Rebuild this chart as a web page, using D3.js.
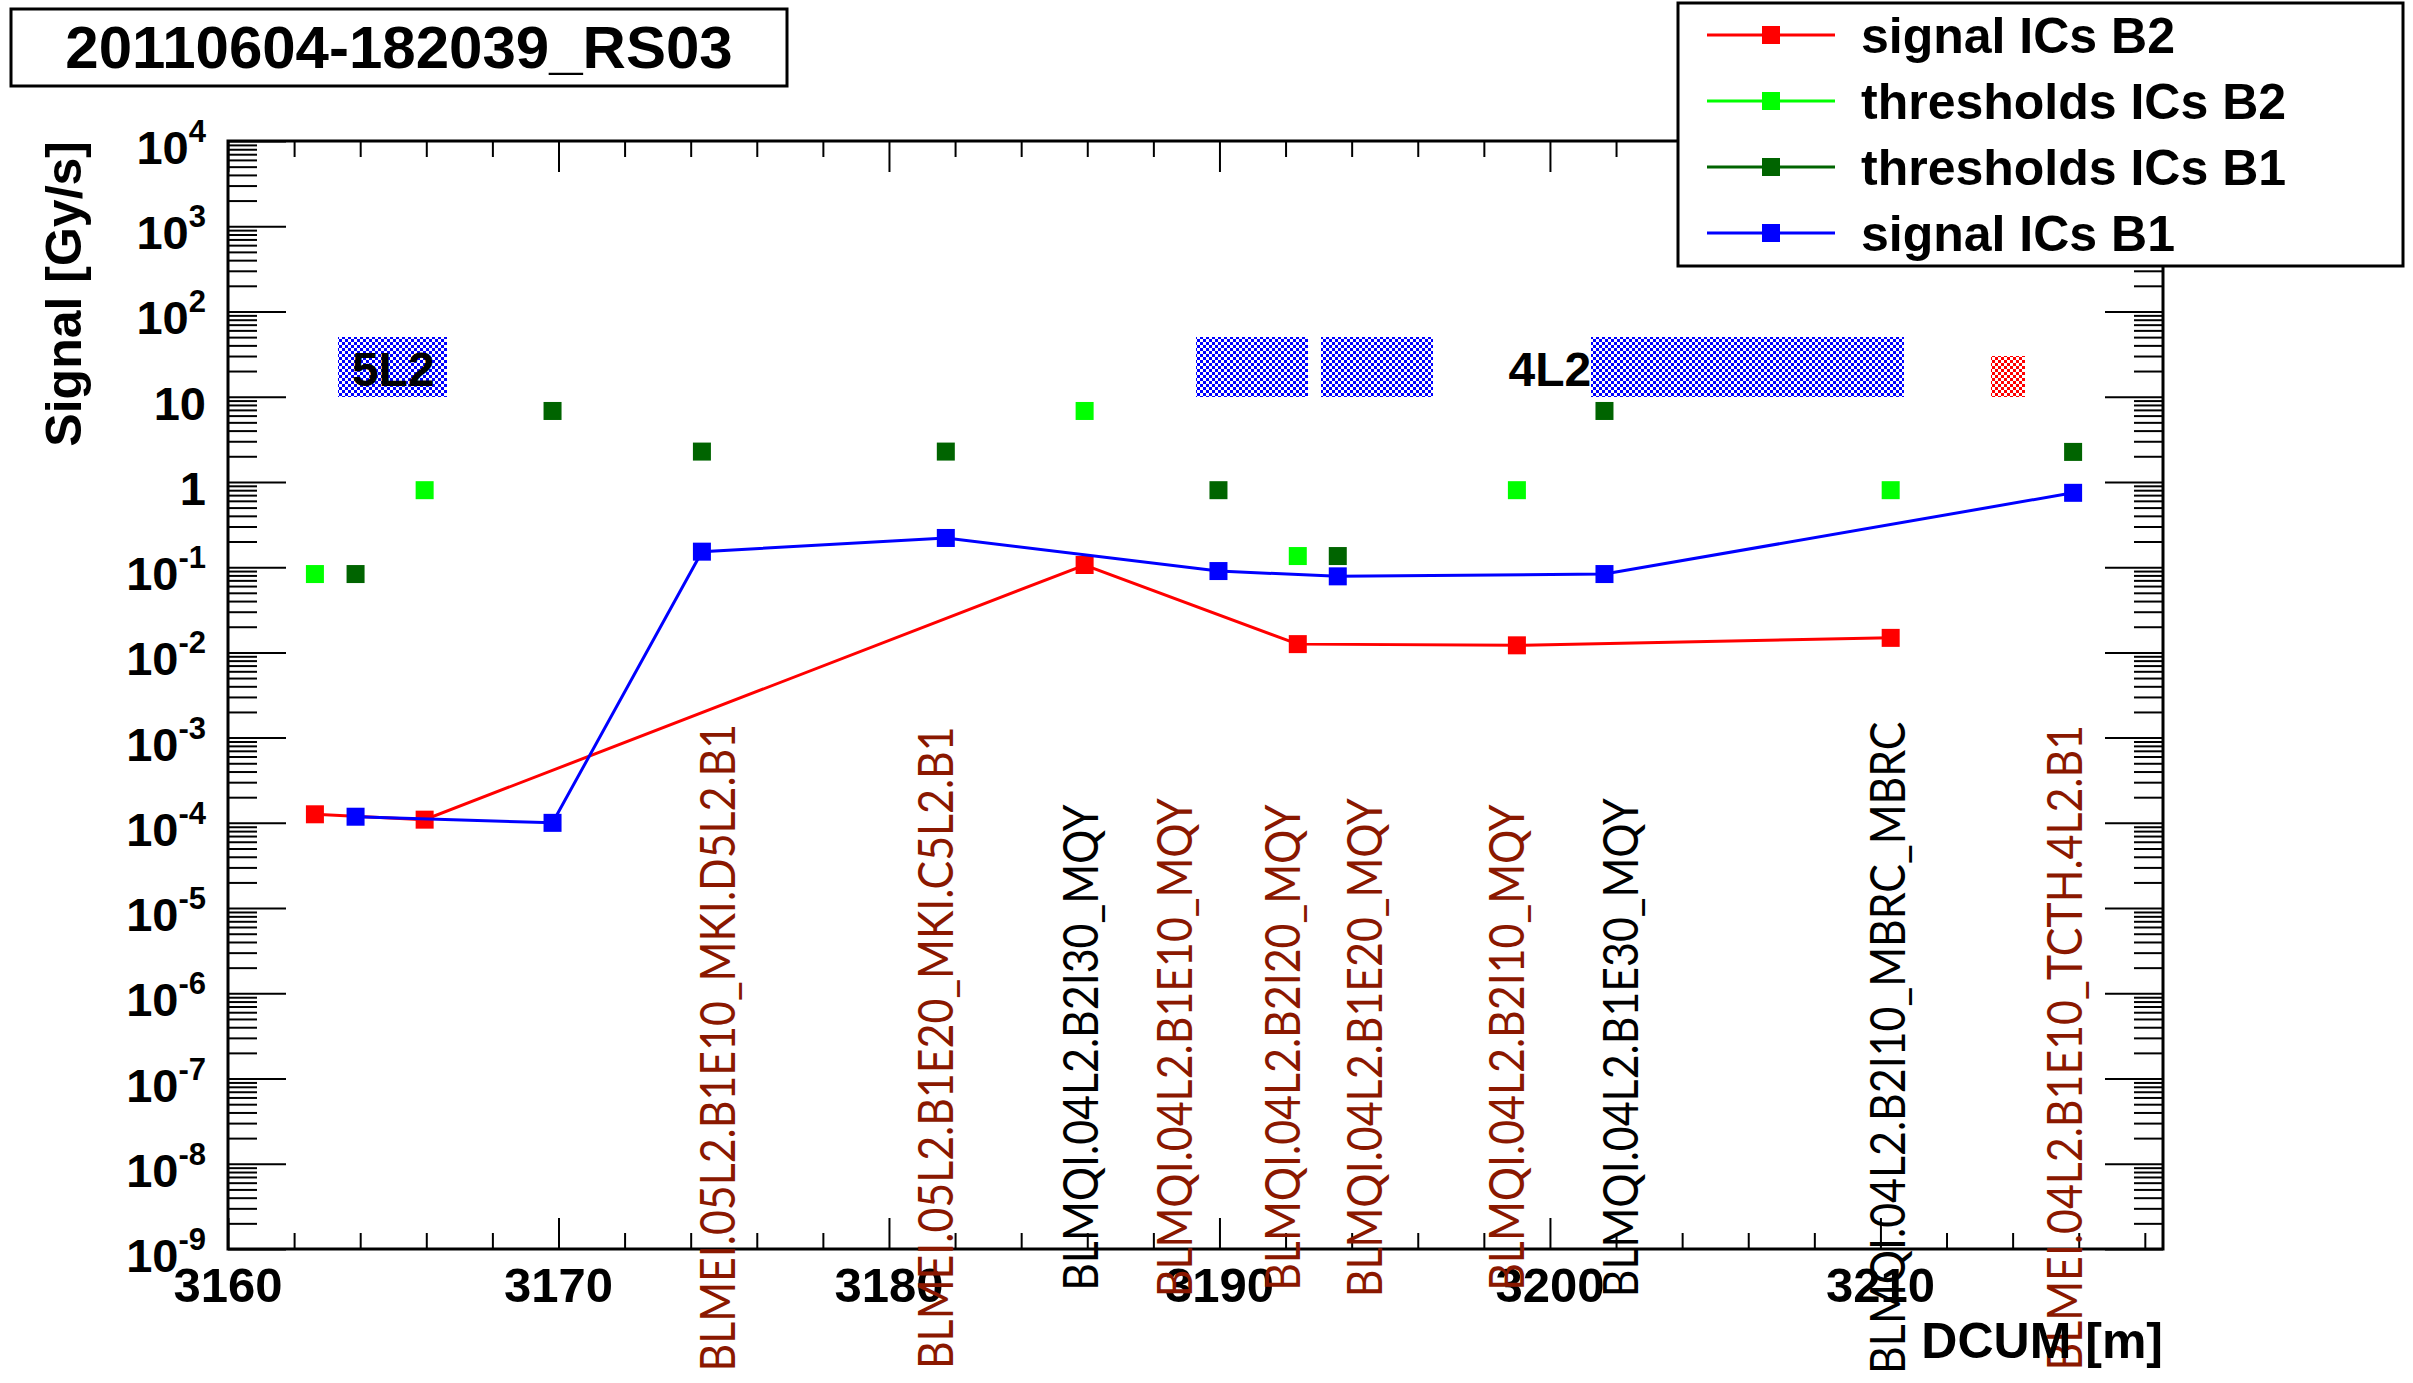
<!DOCTYPE html>
<html><head><meta charset="utf-8">
<script src="https://cdn.jsdelivr.net/npm/d3@7"></script>
<style>
body{margin:0;background:#fff;}
svg{display:block;}
</style>
</head><body>
<script>
// ---------------- data ----------------
const chartTitle = "20110604-182039_RS03";
const xTitle = "DCUM [m]";
const yTitle = "Signal [Gy/s]";

const b2Positions = [3162.63, 3165.95, 3185.92, 3192.37, 3199.0, 3210.31];
const signalB2 = [1.26e-4, 1.09e-4, 0.106, 0.0125, 0.0121, 0.0148];
const thresholdsB2 = [0.083, 0.80, 6.8, 0.135, 0.80, 0.80];

const b1Positions = [3163.86, 3169.82, 3174.34, 3181.72, 3189.97, 3193.58, 3201.65, 3215.83];
const signalB1 = [1.18e-4, 1.0e-4, 0.152, 0.22, 0.09, 0.078, 0.083, 0.745];
const thresholdsB1 = [0.083, 6.8, 2.27, 2.27, 0.80, 0.135, 6.8, 2.25];

const legendNames = ["signal ICs B2", "thresholds ICs B2", "thresholds ICs B1", "signal ICs B1"];
const legendColors = ["#ff0000", "#00ff00", "#006400", "#0000ff"];

const monitorNames = [
  "BLMEI.05L2.B1E10_MKI.D5L2.B1",
  "BLMEI.05L2.B1E20_MKI.C5L2.B1",
  "BLMQI.04L2.B2I30_MQY",
  "BLMQI.04L2.B1E10_MQY",
  "BLMQI.04L2.B2I20_MQY",
  "BLMQI.04L2.B1E20_MQY",
  "BLMQI.04L2.B2I10_MQY",
  "BLMQI.04L2.B1E30_MQY",
  "BLMQI.04L2.B2I10_MBRC_MBRC",
  "BLMEI.04L2.B1E10_TCTH.4L2.B1"
];
const monitorPositions = [3174.83, 3181.42, 3185.8, 3188.65, 3191.9, 3194.4, 3198.7, 3202.15, 3210.23, 3215.57];
const monitorColors = ["#8a1800", "#8a1800", "#000000", "#8a1800", "#8a1800", "#8a1800", "#8a1800", "#000000", "#000000", "#8a1800"];
const monitorLabelValue = 2.3e-7;

const regionStart = [3163.33, 3189.28, 3193.08, 3201.24, 3213.34];
const regionEnd   = [3166.63, 3192.69, 3196.47, 3210.70, 3214.36];
const regionLow   = [10, 10, 10, 10, 10];
const regionHigh  = [50, 50, 50, 50, 30];
const regionColor = ["#0000ff", "#0000ff", "#0000ff", "#0000ff", "#ff0000"];
const regionNames = ["5L2", "4L2"];
const regionNamePositions = [3165.0, 3200.0];
const regionNameValue = 21;

const xMajorTicks = [3160, 3170, 3180, 3190, 3200, 3210];
const yExponents = [-9, -8, -7, -6, -5, -4, -3, -2, -1, 0, 1, 2, 3, 4];

// ---------------- layout ----------------
const W = 2413, H = 1383;
const L = 228, R = 2163, T = 141, B = 1249;
const FONT = "'Liberation Sans', Arial, Helvetica, sans-serif";
const LABFONT = "Lato, 'Open Sans', sans-serif";

const svg = d3.select("body").append("svg").attr("width", W).attr("height", H)
  .style("background", "#fff");

const x = d3.scaleLinear().domain([3160, 3218.55]).range([L, R]);
const y = d3.scaleLog().domain([1e-9, 1e4]).range([B, T]);

// checker patterns
const defs = svg.append("defs");
const CELL = 3;
regionColor.forEach((c, i) => {
  const p = defs.append("pattern").attr("id", "chk" + i)
    .attr("patternUnits", "userSpaceOnUse").attr("width", 2 * CELL).attr("height", 2 * CELL);
  p.append("rect").attr("width", 2 * CELL).attr("height", 2 * CELL).attr("fill", "#fff");
  p.append("rect").attr("x", 0).attr("y", 0).attr("width", CELL).attr("height", CELL).attr("fill", c);
  p.append("rect").attr("x", CELL).attr("y", CELL).attr("width", CELL).attr("height", CELL).attr("fill", c);
});

// region boxes
svg.append("g").selectAll("rect").data(regionStart).join("rect")
  .attr("x", (d, i) => x(d))
  .attr("width", (d, i) => x(regionEnd[i]) - x(d))
  .attr("y", (d, i) => y(regionHigh[i]))
  .attr("height", (d, i) => y(regionLow[i]) - y(regionHigh[i]))
  .attr("fill", (d, i) => "url(#chk" + i + ")")
  .attr("shape-rendering", "crispEdges");

svg.append("g").selectAll("text").data(regionNames).join("text")
  .attr("x", (d, i) => x(regionNamePositions[i]))
  .attr("y", y(regionNameValue))
  .attr("dominant-baseline", "central")
  .attr("text-anchor", "middle")
  .attr("font-family", FONT).attr("font-weight", "bold").attr("font-size", 48)
  .text(d => d);

// ticks
function styleAxis(g) {
  g.select(".domain").remove();
  g.selectAll("line").attr("stroke", "#000").attr("stroke-width", 2);
  g.selectAll("text").remove();
}
const yMajor = yExponents.map(e => Math.pow(10, e));
const yMinor = [];
yExponents.slice(0, -1).forEach(e => { for (let k = 2; k <= 9; k++) yMinor.push(k * Math.pow(10, e)); });
const xMinor = d3.range(3162, 3219, 2).filter(v => v % 10 !== 0);

svg.append("g").attr("transform", `translate(${L},0)`).call(d3.axisLeft(y).tickValues(yMajor).tickSize(-58)).call(styleAxis);
svg.append("g").attr("transform", `translate(${L},0)`).call(d3.axisLeft(y).tickValues(yMinor).tickSize(-29)).call(styleAxis);
svg.append("g").attr("transform", `translate(${R},0)`).call(d3.axisRight(y).tickValues(yMajor).tickSize(-58)).call(styleAxis);
svg.append("g").attr("transform", `translate(${R},0)`).call(d3.axisRight(y).tickValues(yMinor).tickSize(-29)).call(styleAxis);
svg.append("g").attr("transform", `translate(0,${B})`).call(d3.axisBottom(x).tickValues(xMajorTicks).tickSize(-31)).call(styleAxis);
svg.append("g").attr("transform", `translate(0,${B})`).call(d3.axisBottom(x).tickValues(xMinor).tickSize(-16)).call(styleAxis);
svg.append("g").attr("transform", `translate(0,${T})`).call(d3.axisTop(x).tickValues(xMajorTicks).tickSize(-31)).call(styleAxis);
svg.append("g").attr("transform", `translate(0,${T})`).call(d3.axisTop(x).tickValues(xMinor).tickSize(-16)).call(styleAxis);

// frame
svg.append("rect").attr("x", L).attr("y", T).attr("width", R - L).attr("height", B - T)
  .attr("fill", "none").attr("stroke", "#000").attr("stroke-width", 3);

// y tick labels
const yl = svg.append("g").attr("font-family", FONT).attr("font-weight", "bold");
yExponents.forEach(e => {
  const t = yl.append("text").attr("x", 206).attr("y", y(Math.pow(10, e)) + 23)
    .attr("text-anchor", "end").attr("font-size", 47);
  if (e === 0) t.text("1");
  else if (e === 1) t.text("10");
  else {
    t.append("tspan").text("10");
    t.append("tspan").attr("font-size", 31).attr("dy", -22).text(String(e));
  }
});

// x tick labels
svg.append("g").selectAll("text").data(xMajorTicks).join("text")
  .attr("x", d => x(d)).attr("y", 1302)
  .attr("text-anchor", "middle")
  .attr("font-family", FONT).attr("font-weight", "bold").attr("font-size", 49)
  .text(d => d);

// y title
svg.append("text").attr("transform", `translate(81,${T}) rotate(-90)`)
  .attr("text-anchor", "end").attr("font-family", FONT).attr("font-weight", "bold")
  .attr("font-size", 50).text(yTitle);

// series
function drawSeries(xs, vs, color, withLine) {
  const pts = xs.map((d, i) => [x(d), y(vs[i])]);
  if (withLine) {
    svg.append("path").attr("d", d3.line()(pts)).attr("fill", "none")
      .attr("stroke", color).attr("stroke-width", 3);
  }
  svg.append("g").selectAll("rect").data(pts).join("rect")
    .attr("x", d => d[0] - 9).attr("y", d => d[1] - 9)
    .attr("width", 18).attr("height", 18).attr("fill", color);
}
drawSeries(b2Positions, signalB2, legendColors[0], true);
drawSeries(b2Positions, thresholdsB2, legendColors[1], false);
drawSeries(b1Positions, thresholdsB1, legendColors[2], false);
drawSeries(b1Positions, signalB1, legendColors[3], true);

// monitor labels (horizontally compressed to match a Gill-Sans-like width)
const LFS = 48;
const LABEL0_LEN = 648;
const labels = svg.append("g").selectAll("text").data(monitorNames).join("text")
  .attr("text-anchor", "middle")
  .attr("font-family", LABFONT).attr("font-size", LFS)
  .attr("fill", (d, i) => monitorColors[i])
  .text(d => d);
let k = 0.91;
try {
  const len0 = labels.node().getComputedTextLength();
  if (len0 > 0) k = LABEL0_LEN / len0;
} catch (err) {}
labels.attr("transform", (d, i) =>
  `translate(${x(monitorPositions[i]) + LFS * 0.36},${y(monitorLabelValue)}) rotate(-90) scale(${k},1)`);

// x title
svg.append("text").attr("x", R).attr("y", 1358).attr("text-anchor", "end")
  .attr("font-family", FONT).attr("font-weight", "bold").attr("font-size", 50).text(xTitle);

// title box
svg.append("rect").attr("x", 11).attr("y", 9).attr("width", 776).attr("height", 77)
  .attr("fill", "#fff").attr("stroke", "#000").attr("stroke-width", 3);
svg.append("text").attr("x", 399).attr("y", 68).attr("text-anchor", "middle")
  .attr("font-family", FONT).attr("font-weight", "bold").attr("font-size", 60).text(chartTitle);

// legend
svg.append("rect").attr("x", 1678).attr("y", 3).attr("width", 725).attr("height", 263)
  .attr("fill", "#fff").attr("stroke", "#000").attr("stroke-width", 3);
const lg = svg.append("g");
legendNames.forEach((name, i) => {
  const cy = 35 + i * 66;
  lg.append("line").attr("x1", 1707).attr("x2", 1835).attr("y1", cy).attr("y2", cy)
    .attr("stroke", legendColors[i]).attr("stroke-width", 3);
  lg.append("rect").attr("x", 1771 - 9).attr("y", cy - 9).attr("width", 18).attr("height", 18)
    .attr("fill", legendColors[i]);
  lg.append("text").attr("x", 1861).attr("y", cy + 18)
    .attr("font-family", FONT).attr("font-weight", "bold").attr("font-size", 50).text(name);
});
</script>
</body></html>
